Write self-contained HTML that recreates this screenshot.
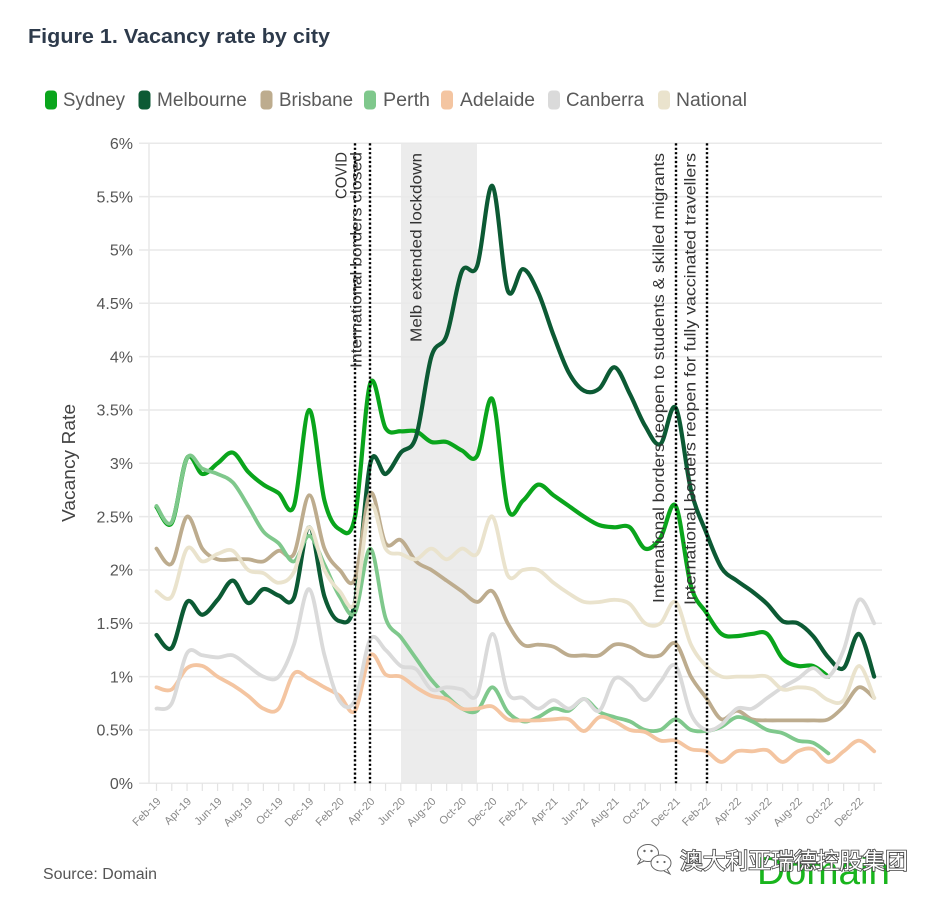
<!DOCTYPE html>
<html>
<head>
<meta charset="utf-8">
<style>
html,body{margin:0;padding:0;background:#fff;}
svg{display:block;font-family:"Liberation Sans","Noto Sans CJK SC",sans-serif;}
</style>
</head>
<body>
<svg id="chart" width="940" height="902" viewBox="0 0 940 902" xmlns="http://www.w3.org/2000/svg">
<rect x="0" y="0" width="940" height="902" fill="#fff"/>

<!-- Title -->
<text x="28" y="43" font-size="20.5" font-weight="bold" fill="#2d3a4b" textLength="302" lengthAdjust="spacingAndGlyphs">Figure 1. Vacancy rate by city</text>

<!-- Legend -->
<g font-size="19" fill="#5a5a5a">
  <rect x="45" y="90.5" width="12" height="19" rx="4" fill="#0aa51c"/>
  <text x="63" y="106" textLength="62" lengthAdjust="spacingAndGlyphs">Sydney</text>
  <rect x="138.5" y="90.5" width="12" height="19" rx="4" fill="#0c5a34"/>
  <text x="157" y="106" textLength="90" lengthAdjust="spacingAndGlyphs">Melbourne</text>
  <rect x="260.5" y="90.5" width="12" height="19" rx="4" fill="#bdac8e"/>
  <text x="279" y="106" textLength="74" lengthAdjust="spacingAndGlyphs">Brisbane</text>
  <rect x="364" y="90.5" width="12" height="19" rx="4" fill="#7fc88c"/>
  <text x="383" y="106" textLength="47" lengthAdjust="spacingAndGlyphs">Perth</text>
  <rect x="441" y="90.5" width="12" height="19" rx="4" fill="#f4c5a1"/>
  <text x="460" y="106" textLength="75" lengthAdjust="spacingAndGlyphs">Adelaide</text>
  <rect x="548" y="90.5" width="12" height="19" rx="4" fill="#dadada"/>
  <text x="566" y="106" textLength="78" lengthAdjust="spacingAndGlyphs">Canberra</text>
  <rect x="658" y="90.5" width="12" height="19" rx="4" fill="#eae3cd"/>
  <text x="676" y="106" textLength="71" lengthAdjust="spacingAndGlyphs">National</text>
</g>

<!-- Shaded lockdown region -->
<rect x="401" y="143.3" width="76" height="640" fill="#ececec"/>

<!-- Gridlines -->
<g stroke="#e9e9e9" stroke-width="1.5">
  <line x1="139" y1="143.3" x2="882" y2="143.3"/>
  <line x1="139" y1="196.6" x2="882" y2="196.6"/>
  <line x1="139" y1="250" x2="882" y2="250"/>
  <line x1="139" y1="303.3" x2="882" y2="303.3"/>
  <line x1="139" y1="356.6" x2="882" y2="356.6"/>
  <line x1="139" y1="410" x2="882" y2="410"/>
  <line x1="139" y1="463.3" x2="882" y2="463.3"/>
  <line x1="139" y1="516.6" x2="882" y2="516.6"/>
  <line x1="139" y1="570" x2="882" y2="570"/>
  <line x1="139" y1="623.3" x2="882" y2="623.3"/>
  <line x1="139" y1="676.6" x2="882" y2="676.6"/>
  <line x1="139" y1="730" x2="882" y2="730"/>
  <line x1="139" y1="783.3" x2="882" y2="783.3"/>
  <line x1="149" y1="143.3" x2="149" y2="783.3"/>
</g>
<g id="ticks" stroke="#e3e3e3" stroke-width="1.2"></g>

<!-- Y tick labels -->
<g font-size="16" fill="#555" text-anchor="end">
  <text x="133" y="149">6%</text>
  <text x="133" y="202.3">5.5%</text>
  <text x="133" y="255.6">5%</text>
  <text x="133" y="309">4.5%</text>
  <text x="133" y="362.3">4%</text>
  <text x="133" y="415.6">3.5%</text>
  <text x="133" y="469">3%</text>
  <text x="133" y="522.3">2.5%</text>
  <text x="133" y="575.6">2%</text>
  <text x="133" y="629">1.5%</text>
  <text x="133" y="682.3">1%</text>
  <text x="133" y="735.6">0.5%</text>
  <text x="133" y="789">0%</text>
</g>

<!-- Y axis title -->
<text transform="translate(75,463) rotate(-90)" font-size="18" fill="#444" text-anchor="middle" textLength="118" lengthAdjust="spacingAndGlyphs">Vacancy Rate</text>

<!-- X labels -->
<g font-size="11" fill="#888" text-anchor="end">
  <text transform="translate(161.5,802) rotate(-45)">Feb-19</text>
  <text transform="translate(192.0,802) rotate(-45)">Apr-19</text>
  <text transform="translate(222.6,802) rotate(-45)">Jun-19</text>
  <text transform="translate(253.1,802) rotate(-45)">Aug-19</text>
  <text transform="translate(283.7,802) rotate(-45)">Oct-19</text>
  <text transform="translate(314.2,802) rotate(-45)">Dec-19</text>
  <text transform="translate(344.7,802) rotate(-45)">Feb-20</text>
  <text transform="translate(375.3,802) rotate(-45)">Apr-20</text>
  <text transform="translate(405.8,802) rotate(-45)">Jun-20</text>
  <text transform="translate(436.4,802) rotate(-45)">Aug-20</text>
  <text transform="translate(466.9,802) rotate(-45)">Oct-20</text>
  <text transform="translate(497.4,802) rotate(-45)">Dec-20</text>
  <text transform="translate(528.0,802) rotate(-45)">Feb-21</text>
  <text transform="translate(558.5,802) rotate(-45)">Apr-21</text>
  <text transform="translate(589.1,802) rotate(-45)">Jun-21</text>
  <text transform="translate(619.6,802) rotate(-45)">Aug-21</text>
  <text transform="translate(650.1,802) rotate(-45)">Oct-21</text>
  <text transform="translate(680.7,802) rotate(-45)">Dec-21</text>
  <text transform="translate(711.2,802) rotate(-45)">Feb-22</text>
  <text transform="translate(741.8,802) rotate(-45)">Apr-22</text>
  <text transform="translate(772.3,802) rotate(-45)">Jun-22</text>
  <text transform="translate(802.8,802) rotate(-45)">Aug-22</text>
  <text transform="translate(833.4,802) rotate(-45)">Oct-22</text>
  <text transform="translate(863.9,802) rotate(-45)">Dec-22</text>
</g>

<!-- Series -->
<g id="series" fill="none" stroke-linejoin="round" stroke-linecap="round"></g>

<!-- Dotted event lines -->
<g stroke="#000" stroke-width="2.4" stroke-dasharray="2.2 2.2">
  <line x1="355" y1="143.3" x2="355" y2="783.3"/>
  <line x1="370" y1="143.3" x2="370" y2="783.3"/>
  <line x1="676" y1="143.3" x2="676" y2="783.3"/>
  <line x1="707" y1="143.3" x2="707" y2="783.3"/>
</g>

<!-- Annotations -->
<g font-size="16" fill="#333" text-anchor="end">
  <text transform="translate(346.7,152) rotate(-90)" textLength="47" lengthAdjust="spacingAndGlyphs">COVID</text>
  <text transform="translate(361.7,152) rotate(-90)" textLength="216" lengthAdjust="spacingAndGlyphs">International borders closed</text>
  <text transform="translate(421.7,153) rotate(-90)" textLength="189" lengthAdjust="spacingAndGlyphs">Melb extended lockdown</text>
  <text transform="translate(664,153) rotate(-90)" textLength="450" lengthAdjust="spacingAndGlyphs">International borders reopen to students &amp; skilled migrants</text>
  <text transform="translate(695.5,153) rotate(-90)" textLength="452" lengthAdjust="spacingAndGlyphs">International borders reopen for fully vaccinated travellers</text>
</g>

<!-- Source -->
<text x="43" y="879" font-size="15.5" fill="#555" textLength="114" lengthAdjust="spacingAndGlyphs">Source: Domain</text>

<!-- Domain logo -->
<text x="757" y="884" font-size="39" fill="#19b51d" textLength="133" lengthAdjust="spacingAndGlyphs">Domain</text>

<!-- WeChat watermark -->
<g fill="#fff" stroke="#666" stroke-width="1">
  <ellipse cx="648" cy="853" rx="10.5" ry="8.5"/>
  <path d="M641,859 l-3,5 l6,-3" />
  <ellipse cx="661" cy="863" rx="10" ry="8"/>
  <path d="M667,869 l3,5 l-6,-3" />
</g>
<g fill="#666">
  <circle cx="644.5" cy="851" r="1.2"/>
  <circle cx="651.5" cy="851" r="1.2"/>
  <circle cx="657.5" cy="862" r="1.1"/>
  <circle cx="664.5" cy="862" r="1.1"/>
</g>
<text x="680" y="869" font-size="22.5" fill="#fff" stroke="#444" stroke-width="1.6" paint-order="stroke" font-family="'Liberation Sans','Noto Sans CJK SC',sans-serif" textLength="228" lengthAdjust="spacingAndGlyphs">澳大利亚瑞德控股集团</text>
</svg>

<script>
(function(){
  var NS="http://www.w3.org/2000/svg";
  var X0=156.5, DX=15.27, Y0=783.3, K=106.67;
  var ticks=document.getElementById("ticks");
  for(var i=0;i<48;i++){
    var l=document.createElementNS(NS,"line");
    var x=X0+DX*i;
    l.setAttribute("x1",x);l.setAttribute("x2",x);
    l.setAttribute("y1",783.3);l.setAttribute("y2",791);
    ticks.appendChild(l);
  }
  function path(vals){
    var p=vals.map(function(v,i){return [X0+DX*i, Y0-v*K];});
    var d="M"+p[0][0].toFixed(2)+" "+p[0][1].toFixed(2);
    for(var i=0;i<p.length-1;i++){
      var p0=p[i-1]||p[i], p1=p[i], p2=p[i+1], p3=p[i+2]||p[i+1];
      var c1x=p1[0]+(p2[0]-p0[0])/6, c1y=p1[1]+(p2[1]-p0[1])/6;
      var c2x=p2[0]-(p3[0]-p1[0])/6, c2y=p2[1]-(p3[1]-p1[1])/6;
      d+=" C"+c1x.toFixed(2)+" "+c1y.toFixed(2)+" "+c2x.toFixed(2)+" "+c2y.toFixed(2)+" "+p2[0].toFixed(2)+" "+p2[1].toFixed(2);
    }
    return d;
  }
  var S=[
    ["#0aa51c",4.2,[2.59,2.44,3.05,2.9,3.0,3.1,2.92,2.8,2.72,2.6,3.5,2.65,2.38,2.5,3.75,3.33,3.3,3.3,3.2,3.2,3.12,3.07,3.6,2.58,2.65,2.8,2.7,2.6,2.5,2.42,2.4,2.4,2.2,2.3,2.6,1.85,1.6,1.4,1.38,1.4,1.4,1.17,1.1,1.1,1.0]],
    ["#0c5a34",4.2,[1.39,1.27,1.7,1.58,1.72,1.9,1.69,1.82,1.76,1.74,2.4,1.75,1.52,1.7,3.0,2.9,3.1,3.25,4.0,4.2,4.8,4.85,5.6,4.62,4.82,4.6,4.2,3.85,3.68,3.7,3.9,3.65,3.35,3.18,3.52,2.75,2.35,2.02,1.9,1.8,1.68,1.52,1.5,1.38,1.18,1.08,1.4,1.0]],
    ["#bdac8e",3.8,[2.2,2.06,2.5,2.2,2.1,2.1,2.1,2.08,2.18,2.15,2.7,2.2,2.0,1.92,2.72,2.25,2.28,2.08,2.0,1.9,1.8,1.7,1.8,1.5,1.3,1.3,1.28,1.2,1.2,1.2,1.3,1.28,1.2,1.2,1.31,1.0,0.8,0.6,0.68,0.6,0.59,0.59,0.59,0.59,0.6,0.72,0.9,0.8]],
    ["#7fc88c",3.8,[2.6,2.45,3.05,2.95,2.9,2.82,2.6,2.36,2.25,2.08,2.32,2.05,1.75,1.6,2.2,1.55,1.37,1.17,0.97,0.82,0.7,0.68,0.9,0.67,0.58,0.62,0.7,0.68,0.79,0.67,0.62,0.58,0.5,0.5,0.6,0.5,0.49,0.53,0.62,0.58,0.5,0.47,0.4,0.38,0.28]],
    ["#f4c5a1",3.8,[0.9,0.88,1.08,1.1,1.0,0.92,0.82,0.7,0.7,1.03,0.98,0.9,0.82,0.68,1.2,1.02,1.0,0.9,0.82,0.79,0.7,0.7,0.72,0.6,0.59,0.59,0.6,0.6,0.49,0.62,0.58,0.5,0.48,0.4,0.4,0.32,0.3,0.2,0.3,0.3,0.31,0.2,0.3,0.32,0.2,0.3,0.4,0.3]],
    ["#dadada",3.8,[0.7,0.75,1.22,1.2,1.18,1.2,1.1,1.0,1.0,1.3,1.82,1.2,0.77,0.78,1.35,1.25,1.1,1.07,0.88,0.9,0.88,0.83,1.4,0.85,0.8,0.7,0.78,0.7,0.79,0.68,0.98,0.92,0.78,0.95,1.1,0.65,0.5,0.55,0.7,0.7,0.8,0.9,0.98,1.08,1.0,1.25,1.72,1.5]],
    ["#eae3cd",3.8,[1.8,1.75,2.2,2.08,2.15,2.18,2.0,1.97,1.88,1.98,2.4,2.0,1.8,1.7,2.6,2.2,2.15,2.1,2.2,2.1,2.2,2.15,2.5,1.95,2.0,2.0,1.88,1.78,1.7,1.7,1.72,1.68,1.5,1.5,1.7,1.3,1.1,1.0,1.0,1.0,1.0,0.88,0.9,0.88,0.78,0.78,1.1,0.8]]
  ];
  var g=document.getElementById("series");
  S.forEach(function(s){
    var pa=document.createElementNS(NS,"path");
    pa.setAttribute("d",path(s[2]));
    pa.setAttribute("stroke",s[0]);
    pa.setAttribute("stroke-width",s[1]);
    g.appendChild(pa);
  });
})();
</script>
</body>
</html>
